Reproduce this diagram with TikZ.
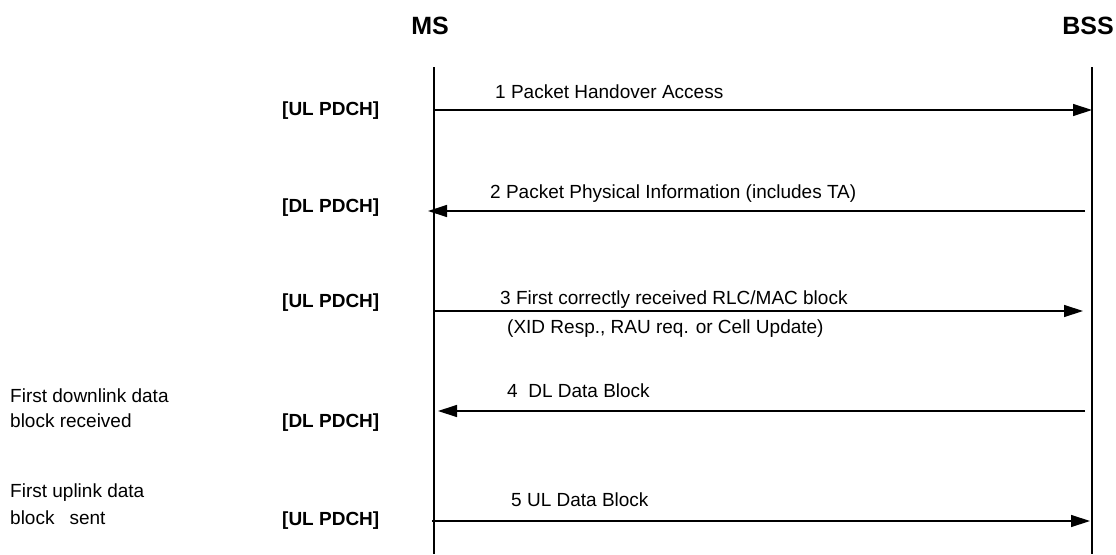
\documentclass[tikz,border=0pt]{standalone}
\usepackage{fontspec}
\setmainfont{Liberation Sans}
\usetikzlibrary{arrows.meta}
\tikzset{
  lifeline/.style={line width=1.2pt},
  msg/.style={line width=1.3pt,-{Triangle[length=19pt,width=12pt]}},
  lbl/.style={anchor=base west,inner sep=0pt,font=\fontsize{19}{25}\selectfont},
  chan/.style={anchor=base west,inner sep=0pt,font=\fontsize{19}{25}\selectfont\bfseries},
  note/.style={anchor=base west,inner sep=0pt,align=left,font=\fontsize{19}{25}\selectfont},
  ttl/.style={anchor=base,inner sep=0pt,font=\fontsize{25}{30}\selectfont\bfseries}
}
\begin{document}
\begin{tikzpicture}[x=1pt,y=-1pt]
\useasboundingbox (0,0) rectangle (1116,554);
% titles
\node[ttl] (ms) at (430,34) {MS};
\node[ttl,anchor=base east] (bss) at (1114,34) {BSS};
% lifelines
\coordinate (msTop) at (434,67);
\coordinate (msBot) at (434,554);
\coordinate (bssTop) at (1092,67);
\coordinate (bssBot) at (1092,554);
\draw[lifeline] (msTop) -- (msBot);
\draw[lifeline] (bssTop) -- (bssBot);
% message endpoints
\coordinate (a1s) at (434,110);  \coordinate (a1e) at (1092,110);
\coordinate (a2s) at (1085,211); \coordinate (a2e) at (428,211);
\coordinate (a3s) at (434,311);  \coordinate (a3e) at (1083,311);
\coordinate (a4s) at (1085,411); \coordinate (a4e) at (438,411);
\coordinate (a5s) at (432,521);  \coordinate (a5e) at (1090,521);
\draw[msg] (a1s) -- (a1e);
\draw[msg] (a2s) -- (a2e);
\draw[msg] (a3s) -- (a3e);
\draw[msg] (a4s) -- (a4e);
\draw[msg] (a5s) -- (a5e);
% message labels
\node[lbl] (l1) at (495,98) {1 Packet Handover Access};
\node[lbl] (l2) at (490,198) {2 Packet Physical Information (includes TA)};
\node[lbl] (l3a) at (500,304) {3 First correctly received RLC/MAC block};
\node[lbl] (l3b) at (507,333) {(XID Resp., RAU req. or Cell Update)};
\node[lbl] (l4) at (507,397) {4~~DL Data Block};
\node[lbl] (l5) at (511,506) {5 UL Data Block};
% channel labels
\node[chan] (c1) at (282,115) {[UL PDCH]};
\node[chan] (c2) at (282,212) {[DL PDCH]};
\node[chan] (c3) at (282,307) {[UL PDCH]};
\node[chan] (c4) at (282,427) {[DL PDCH]};
\node[chan] (c5) at (282,525) {[UL PDCH]};
% side notes
\node[note] (n1a) at (10,402) {First downlink data};
\node[note] (n1b) at (10,427) {block received};
\node[note] (n2a) at (10,497) {First uplink data};
\node[note] (n2b) at (10,524) {block\hspace{15pt}sent};
\end{tikzpicture}
\end{document}
